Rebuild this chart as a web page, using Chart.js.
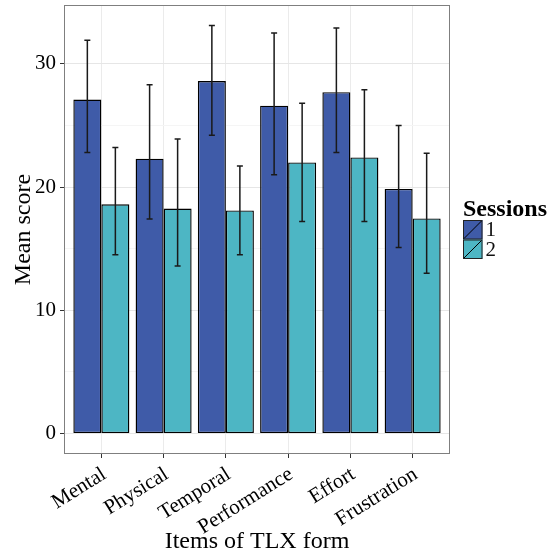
<!DOCTYPE html>
<html>
<head>
<meta charset="utf-8">
<script src="https://cdn.jsdelivr.net/npm/chart.js@4"></script>
<style>
  html, body { margin: 0; padding: 0; background: #fff; }
</style>
</head>
<body>
<canvas id="myChart" width="555" height="557"></canvas>
<script>
// values
var items = ['Mental', 'Physical', 'Temporal', 'Performance', 'Effort', 'Frustration'];
var sessions = ['1', '2'];
var session1 = [27.1, 22.3, 28.6, 26.6, 27.7, 19.85];
var session1Low = [22.8, 17.4, 24.2, 21.0, 22.8, 15.1];
var session1High = [31.9, 28.3, 33.1, 32.5, 32.9, 25.0];
var session2 = [18.6, 18.25, 18.1, 22.0, 22.4, 17.45];
var session2Low = [14.5, 13.6, 14.5, 17.2, 17.2, 13.0];
var session2High = [23.2, 23.9, 21.7, 26.8, 27.9, 22.75];
var yTicks = [0, 5, 10, 15, 20, 25, 30];
var colors = ['#3f5ba8', '#4db6c4'];

var serif = '"Liberation Serif", "DejaVu Serif", serif';

function points(values) {
  return values.map(function(v, i) { return { x: i, y: v }; });
}

var panel = {
  id: 'panel',
  afterDatasetsDraw: function(chart) {
    var a = chart.chartArea, ctx = chart.ctx;
    ctx.save();
    ctx.strokeStyle = '#7f7f7f';
    ctx.lineWidth = 1;
    ctx.strokeRect(Math.round(a.left) + 0.5, Math.round(a.top) + 0.5,
      Math.round(a.right - a.left) - 1, Math.round(a.bottom - a.top) - 1);
    ctx.restore();
  }
};

var errorBars = {
  id: 'errorBars',
  afterDatasetsDraw: function(chart) {
    var ctx = chart.ctx, y = chart.scales.y;
    ctx.save();
    ctx.strokeStyle = '#1a1a1a';
    ctx.lineWidth = 1.5;
    chart.data.datasets.forEach(function(ds, i) {
      var meta = chart.getDatasetMeta(i);
      meta.data.forEach(function(bar, j) {
        var x = bar.x;
        var lo = y.getPixelForValue(ds.low[j]);
        var hi = y.getPixelForValue(ds.high[j]);
        ctx.beginPath();
        ctx.moveTo(x, lo); ctx.lineTo(x, hi);
        ctx.moveTo(x - 3, lo); ctx.lineTo(x + 3, lo);
        ctx.moveTo(x - 3, hi); ctx.lineTo(x + 3, hi);
        ctx.stroke();
      });
    });
    ctx.restore();
  }
};

var sessionLegend = {
  id: 'sessionLegend',
  afterDraw: function(chart) {
    var ctx = chart.ctx, x0 = 463, y0 = 220, k = 19.5;
    ctx.save();
    ctx.fillStyle = '#000';
    ctx.font = 'bold 24px ' + serif;
    ctx.textBaseline = 'alphabetic';
    ctx.textAlign = 'left';
    ctx.fillText('Sessions', x0, 216);
    sessions.forEach(function(s, i) {
      var y = y0 + i * k;
      ctx.fillStyle = colors[i];
      ctx.fillRect(x0, y, k, k);
      ctx.strokeStyle = '#222';
      ctx.lineWidth = 1;
      ctx.strokeRect(x0 + 0.5, y + 0.5, k - 1, k - 1);
      ctx.beginPath();
      ctx.moveTo(x0 + 1, y + k - 1);
      ctx.lineTo(x0 + k - 1, y + 1);
      ctx.strokeStyle = '#000';
      ctx.stroke();
      ctx.fillStyle = '#111';
      ctx.font = '21px ' + serif;
      ctx.textBaseline = 'middle';
      ctx.fillText(s, x0 + k + 3, y + k / 2 + 1);
    });
    ctx.restore();
  }
};

var ctx = document.getElementById('myChart').getContext('2d');
var chart = new Chart(ctx, {
  type: 'bar',
  data: {
    datasets: [{
      label: sessions[0],
      data: points(session1),
      low: session1Low,
      high: session1High,
      backgroundColor: colors[0]
    }, {
      label: sessions[1],
      data: points(session2),
      low: session2Low,
      high: session2High,
      backgroundColor: colors[1]
    }]
  },
  options: {
    responsive: false,
    devicePixelRatio: 1,
    animation: false,
    layout: { padding: { left: 0, top: 5, right: 105, bottom: 0 } },
    datasets: {
      bar: {
        categoryPercentage: 0.9,
        barPercentage: 1,
        borderColor: '#000',
        borderWidth: 1.4,
        borderSkipped: false
      }
    },
    plugins: {
      legend: false,
      tooltip: false
    },
    scales: {
      x: {
        type: 'linear',
        min: -0.6,
        max: 5.6,
        offset: false,
        afterBuildTicks: function(s) {
          s.ticks = items.map(function(_, i) { return { value: i }; });
        },
        afterFit: function(s) {
          s.height = 103;
          s.paddingLeft = 0;
          s.paddingRight = 0;
        },
        grid: { offset: false, color: '#ebebeb', tickColor: '#333', tickLength: 4 },
        border: { display: false },
        ticks: {
          autoSkip: false,
          minRotation: 32,
          maxRotation: 32,
          padding: 4,
          labelOffset: 3,
          color: '#000',
          font: { family: serif, size: 21 },
          callback: function(v, i) { return items[i]; }
        },
        title: {
          display: true,
          text: 'Items of TLX form',
          color: '#000',
          font: { family: serif, size: 24 },
          padding: { top: 0, bottom: 1 }
        }
      },
      y: {
        min: -1.66,
        max: 34.77,
        afterBuildTicks: function(s) {
          s.ticks = yTicks.map(function(v) { return { value: v }; });
        },
        afterFit: function(s) {
          s.width = 64;
          s.paddingTop = 0;
          s.paddingBottom = 0;
        },
        grid: {
          color: function(c) {
            return c.tick && c.tick.value % 10 === 0 ? '#e6e6e6' : '#f5f5f5';
          },
          tickColor: function(c) {
            return c.tick && c.tick.value % 10 === 0 ? '#333' : 'rgba(0,0,0,0)';
          },
          tickLength: 4
        },
        border: { display: false },
        ticks: {
          padding: 4,
          color: '#000',
          font: { family: serif, size: 21 },
          callback: function(v) { return v % 10 === 0 ? v : ''; }
        },
        title: {
          display: true,
          text: 'Mean score',
          color: '#000',
          font: { family: serif, size: 24 },
          padding: { top: 9, bottom: 0 }
        }
      }
    }
  },
  plugins: [panel, errorBars, sessionLegend]
});
</script>
</body>
</html>
